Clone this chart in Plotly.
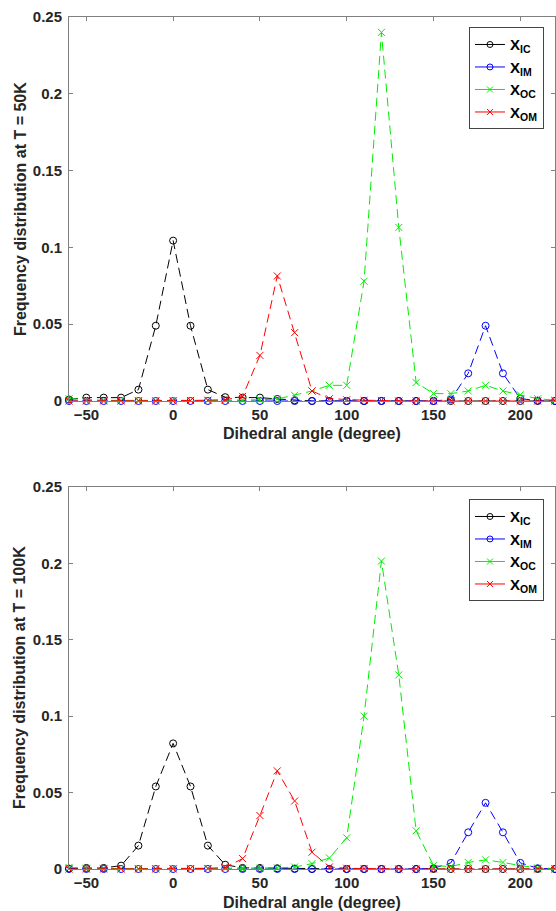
import plotly.graph_objects as go

angles = [-60, -50, -40, -30, -20, -10, 0, 10, 20, 30, 40, 50, 60, 70, 80, 90,
          100, 110, 120, 130, 140, 150, 160, 170, 180, 190, 200, 210, 220]

# T = 50K
ic_50 = [0.001, 0.0022, 0.0022, 0.0022, 0.0074, 0.049, 0.1044, 0.049, 0.0074, 0.0025,
         0.0022, 0.0022, 0.0013, 0.0005, 0, 0, 0, 0, 0, 0, 0, 0, 0, 0, 0, 0, 0, 0, 0]
im_50 = [0, 0, 0, 0, 0, 0, 0, 0, 0, 0, 0, 0, 0, 0, 0, 0, 0, 0, 0, 0, 0, 0,
         0.001, 0.018, 0.049, 0.018, 0.0015, 0.0003, 0]
oc_50 = [0.0015, 0.0008, 0.0005, 0.0004, 0.0003, 0.0003, 0.0003, 0.0004, 0.0004, 0.0005,
         0.0006, 0.0008, 0.0013, 0.0037, 0.0065, 0.0102, 0.0102, 0.078, 0.240, 0.113,
         0.012, 0.0048, 0.0048, 0.0065, 0.0102, 0.0065, 0.004, 0.0015, 0.0005]
om_50 = [0, 0, 0, 0, 0, 0, 0, 0.0003, 0.0005, 0.0008, 0.003, 0.0297, 0.0814, 0.0445,
         0.0065, 0.0015, 0.0008, 0.0005, 0.0003, 0, 0, 0, 0, 0, 0, 0, 0, 0, 0]

# T = 100K
ic_100 = [0.0003, 0.0007, 0.0007, 0.0022, 0.0153, 0.054, 0.0822, 0.054, 0.0153, 0.0028,
          0.0007, 0.0007, 0.0005, 0.0003, 0, 0, 0, 0, 0, 0, 0, 0, 0, 0, 0, 0, 0, 0, 0]
im_100 = [0, 0, 0, 0, 0, 0, 0, 0, 0, 0, 0, 0, 0, 0, 0, 0, 0, 0, 0, 0, 0,
          0.0005, 0.004, 0.024, 0.0433, 0.024, 0.004, 0.0005, 0]
oc_100 = [0.001, 0.0005, 0.0004, 0.0003, 0.0003, 0.0003, 0.0003, 0.0003, 0.0004, 0.0004,
          0.0005, 0.0005, 0.0007, 0.0013, 0.0035, 0.0072, 0.0204, 0.100, 0.2015, 0.127,
          0.025, 0.0022, 0.0016, 0.0043, 0.006, 0.0043, 0.0022, 0.0007, 0.0003]
om_100 = [0, 0, 0, 0, 0, 0, 0, 0.0002, 0.0003, 0.001, 0.0068, 0.035, 0.0642, 0.0445,
          0.011, 0.0013, 0.0005, 0.0003, 0, 0, 0, 0, 0, 0, 0, 0, 0, 0, 0]

series_names = ["X<sub>IC</sub>", "X<sub>IM</sub>", "X<sub>OC</sub>", "X<sub>OM</sub>"]
series_colors = ["#000000", "#0000ff", "#00ee00", "#ff0000"]
series_symbols = ["circle-open", "circle-open", "x-thin-open", "x-thin-open"]

x_ticks = [-50, 0, 50, 100, 150, 200]
y_ticks = [0, 0.05, 0.1, 0.15, 0.2, 0.25]
y_tick_text = ["0", "0.05", "0.1", "0.15", "0.2", "0.25"]

FONT = "Liberation Sans, Arial, Helvetica, sans-serif"
TXT = "#262626"
AXC = "#808080"

fig = go.Figure()

panels = [
    ([ic_50, im_50, oc_50, om_50], "x", "y", "legend"),
    ([ic_100, im_100, oc_100, om_100], "x2", "y2", "legend2"),
]

for data, xa, ya, lg in panels:
    for vals, name, col, sym in zip(data, series_names, series_colors, series_symbols):
        fig.add_trace(go.Scatter(
            x=angles, y=vals, xaxis=xa, yaxis=ya, mode="lines+markers",
            line=dict(color=col, width=1, dash="9px,5px"),
            marker=dict(symbol=sym, size=7, color=col, line=dict(color=col, width=1)),
            showlegend=False, cliponaxis=False, hoverinfo="x+y", name=name))
    # legend-only entries (solid samples, as in the reference legend)
    for name, col, sym in zip(series_names, series_colors, series_symbols):
        fig.add_trace(go.Scatter(
            x=[None], y=[None], xaxis=xa, yaxis=ya, mode="lines+markers", name=name,
            line=dict(color=col, width=1),
            marker=dict(symbol=sym, size=6, color=col, line=dict(color=col, width=1)),
            showlegend=True, legend=lg))

axis_common = dict(
    showline=True, mirror="ticks", linecolor=AXC, linewidth=1,
    ticks="inside", ticklen=4, tickwidth=1, tickcolor=AXC,
    showgrid=False, zeroline=False,
    tickfont=dict(family=FONT, size=15, color=TXT, weight="bold"),
)

xaxis_cfg = dict(axis_common, range=[-60, 220], tickvals=x_ticks, domain=[0, 1])
yaxis_cfg = dict(axis_common, range=[0, 0.25], tickvals=y_ticks, ticktext=y_tick_text,
                 ticklabelstandoff=3)

legend_common = dict(
    xref="paper", yref="paper", xanchor="left", yanchor="top",
    bgcolor="white", bordercolor="#444444", borderwidth=1,
    font=dict(family=FONT, size=15, color="#000000", weight="bold"),
    itemwidth=30, tracegroupgap=0,
)

fig.update_layout(
    width=556, height=911,
    margin=dict(l=69, r=1, t=17, b=42),
    paper_bgcolor="white", plot_bgcolor="white",
    font=dict(family=FONT, color=TXT),
    xaxis=dict(xaxis_cfg, anchor="y"),
    yaxis=dict(yaxis_cfg, domain=[0.5493, 1.0], anchor="x"),
    xaxis2=dict(xaxis_cfg, anchor="y2"),
    yaxis2=dict(yaxis_cfg, domain=[0.0, 0.4484], anchor="x2"),
    legend=dict(legend_common, x=0.823, y=0.988),
    legend2=dict(legend_common, x=0.823, y=0.434),
    showlegend=True,
)

title_font = dict(family=FONT, size=16, color=TXT, weight="bold")
fig.add_annotation(text="Dihedral angle (degree)", xref="paper", yref="paper",
                   x=0.5, y=0.5117, xanchor="center", yanchor="middle",
                   showarrow=False, font=title_font)
fig.add_annotation(text="Dihedral angle (degree)", xref="paper", yref="paper",
                   x=0.5, y=-0.0396, xanchor="center", yanchor="middle",
                   showarrow=False, font=title_font)
fig.add_annotation(text="Frequency distribution at T = 50K", xref="paper", yref="paper",
                   x=-0.1008, y=0.7746, xanchor="center", yanchor="middle",
                   textangle=-90, showarrow=False, font=title_font)
fig.add_annotation(text="Frequency distribution at T = 100K", xref="paper", yref="paper",
                   x=-0.1008, y=0.2242, xanchor="center", yanchor="middle",
                   textangle=-90, showarrow=False, font=title_font)

fig.write_html("out.html")
